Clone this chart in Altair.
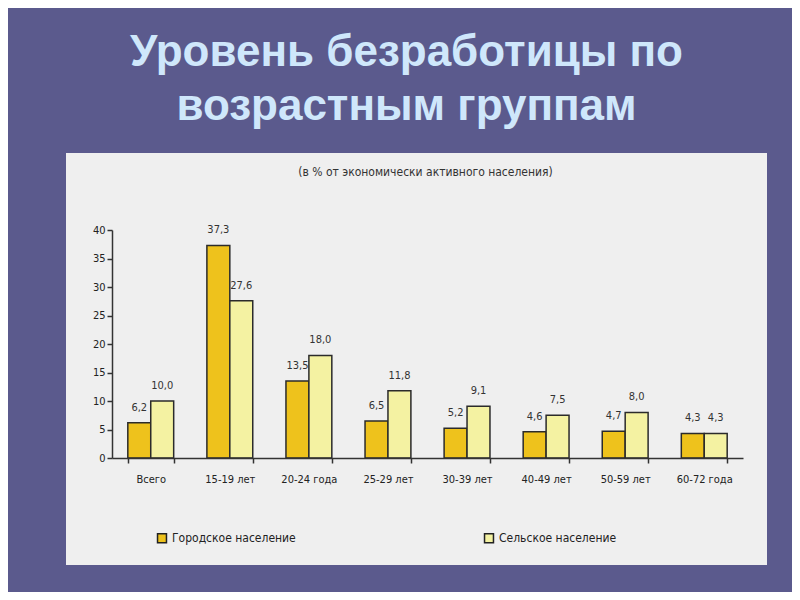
import altair as alt
import pandas as pd

categories = ["Всего", "15-19 лет", "20-24 года", "25-29 лет",
              "30-39 лет", "40-49 лет", "50-59 лет", "60-72 года"]
urban = [6.2, 37.3, 13.5, 6.5, 5.2, 4.6, 4.7, 4.3]
rural = [10.0, 27.6, 18.0, 11.8, 9.1, 7.5, 8.0, 4.3]
series = ["Городское население", "Сельское население"]
colors = ["#eec21c", "#f4f2a2"]
y_ticks = [0, 5, 10, 15, 20, 25, 30, 35, 40]
title_lines = ["Уровень безработицы по", "возрастным группам"]
subtitle = "(в % от экономически активного населения)"

rows = []
for i, c in enumerate(categories):
    rows.append({"group": c, "series": series[0], "value": urban[i]})
    rows.append({"group": c, "series": series[1], "value": rural[i]})
df = pd.DataFrame(rows)

W, H = 631, 228
FONT = "DejaVu Sans Condensed, Liberation Sans Narrow, Liberation Sans, sans-serif"

x_enc = alt.X("group:N", sort=categories,
              scale=alt.Scale(paddingInner=0.42, paddingOuter=0.2),
              axis=alt.Axis(title=None, labelAngle=0, tickBand="extent",
                            labelFontSize=11, labelColor="#222", labelPadding=10,
                            domainColor="#333", domainWidth=1.5,
                            tickColor="#333", tickWidth=1.5, tickSize=5,
                            labelFont=FONT, zindex=2))
xo_enc = alt.XOffset("series:N", sort=series,
                     scale=alt.Scale(paddingInner=0, paddingOuter=0))
y_enc = alt.Y("value:Q", scale=alt.Scale(domain=[0, 40], nice=False),
              axis=alt.Axis(title=None, values=y_ticks, grid=False,
                            labelFontSize=11, labelColor="#222",
                            domainColor="#333", domainWidth=1.5,
                            tickColor="#333", tickWidth=1.5, tickSize=5,
                            labelFont=FONT, zindex=2))

panel = alt.Chart(pd.DataFrame({"a": [0]})).mark_rect(color="#efefef").encode(
    x=alt.value(-46), x2=alt.value(655), y=alt.value(-77), y2=alt.value(335))

sub = alt.Chart(pd.DataFrame({"t": [subtitle]})).mark_text(
    fontSize=12, color="#333", font=FONT).encode(
    text="t:N", x=alt.value(W / 2 - 2), y=alt.value(-58))

bars = alt.Chart(df).mark_bar(stroke="#2b2b2b", strokeWidth=1.5).encode(
    x=x_enc, xOffset=xo_enc, y=y_enc,
    color=alt.Color("series:N", scale=alt.Scale(domain=series, range=colors),
                    legend=alt.Legend(title=None, orient="none", legendX=44, legendY=302,
                                      direction="horizontal", symbolType="square",
                                      symbolSize=80, symbolStrokeColor="#222",
                                      symbolStrokeWidth=1.5, labelFontSize=12,
                                      labelColor="#222", columnPadding=185,
                                      labelFont=FONT)))

labels = alt.Chart(df).transform_calculate(
    lbl="replace(format(datum.value, '.1f'), '.', ',')"
).mark_text(dy=-10, baseline="bottom", fontSize=11, color="#333", font=FONT).encode(
    x=x_enc, xOffset=xo_enc, y=y_enc, text="lbl:N")

chart = alt.layer(panel, sub, bars, labels).properties(
    width=W, height=H,
    padding={"left": 104, "top": 222, "right": 49, "bottom": 134},
    autosize=alt.AutoSizeParams(type="none"),
    background="#5b5a8d",
    title=alt.TitleParams(title_lines, fontSize=44, font="Liberation Sans",
                          fontWeight="bold", color="#cfe7fb", anchor="middle",
                          frame="group", dx=-21, offset=24, lineHeight=54),
).configure_view(stroke=None)

chart.save("out.html", embed_options={"renderer": "svg", "actions": False})
